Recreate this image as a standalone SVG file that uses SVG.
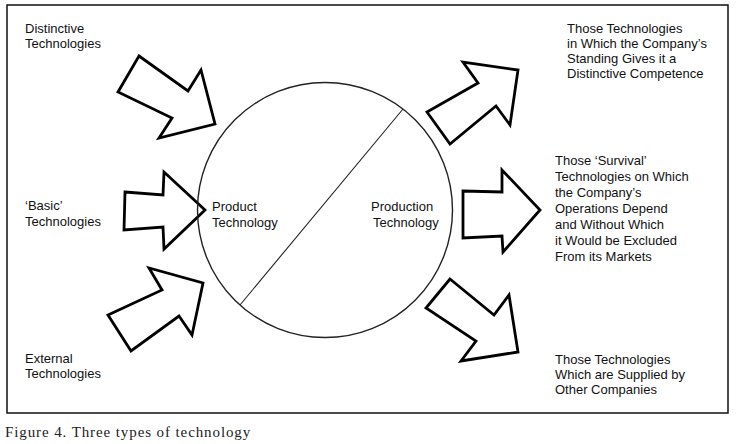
<svg xmlns="http://www.w3.org/2000/svg" width="745" height="444" viewBox="0 0 745 444">
<style>
.t{font-family:"Liberation Sans",Arial,sans-serif;font-size:13px;fill:#111}
.arrow{fill:#fff;stroke:#000;stroke-width:2.8;stroke-linejoin:miter}
.cap{font-family:"Liberation Serif","Times New Roman",serif;font-size:15px;fill:#222;letter-spacing:0.9px}
</style>
<rect width="745" height="444" fill="#fff"/>
<rect id="frame" x="7" y="5" width="721" height="408" fill="none" stroke="#111" stroke-width="1.5"/>
<g id="connectors">
<polygon id="arrow-distinctive" class="arrow" points="139,56 188,91 201,70 215,124 159,138 172,118 118,92"/>
<polygon id="arrow-basic" class="arrow" points="125,192 163,195 164,172 205,210 164,249 163,227 124,230"/>
<polygon id="arrow-external" class="arrow" points="108,315 162,290 149,268 203,283 192,335 179,316 131,351"/>
<polygon id="arrow-out-top" class="arrow" points="427,112 478,83 463,62 518,70 510,125 496,106 450,144"/>
<polygon id="arrow-out-mid" class="arrow" points="463,191 502,192 502,170 540,210 503,252 502,236 463,238"/>
<polygon id="arrow-out-bot" class="arrow" points="450,279 494,315 509,295 518,352 461,361 476,341 426,308"/>
</g>
<g id="circle">
<circle cx="325" cy="210" r="127.5" fill="none" stroke="#222" stroke-width="1.4"/>
<line x1="403" y1="109" x2="240" y2="305" stroke="#222" stroke-width="1.1"/>
</g>
<g id="product"><text class="t" x="212" y="211">Product</text><text class="t" x="212" y="227">Technology</text></g>
<g id="production"><text class="t" x="371" y="211">Production</text><text class="t" x="373" y="227">Technology</text></g>
<g id="distinctive"><text class="t" x="25" y="33">Distinctive</text><text class="t" x="25" y="48">Technologies</text></g>
<g id="basic"><text class="t" x="25" y="210">‘Basic’</text><text class="t" x="25" y="226">Technologies</text></g>
<g id="external"><text class="t" x="25" y="363">External</text><text class="t" x="25" y="378">Technologies</text></g>
<g id="out-top"><text class="t" x="567" y="33">Those Technologies</text><text class="t" x="567" y="48">in Which the Company’s</text><text class="t" x="567" y="63">Standing Gives it a</text><text class="t" x="567" y="78">Distinctive Competence</text></g>
<g id="out-mid"><text class="t" x="555" y="165">Those ‘Survival’</text><text class="t" x="555" y="181">Technologies on Which</text><text class="t" x="555" y="197">the Company’s</text><text class="t" x="555" y="213">Operations Depend</text><text class="t" x="555" y="229">and Without Which</text><text class="t" x="555" y="245">it Would be Excluded</text><text class="t" x="555" y="261">From its Markets</text></g>
<g id="out-bot"><text class="t" x="555" y="364">Those Technologies</text><text class="t" x="555" y="379">Which are Supplied by</text><text class="t" x="555" y="394">Other Companies</text></g>
<text class="cap" x="5" y="437">Figure 4. Three types of technology</text>
</svg>
